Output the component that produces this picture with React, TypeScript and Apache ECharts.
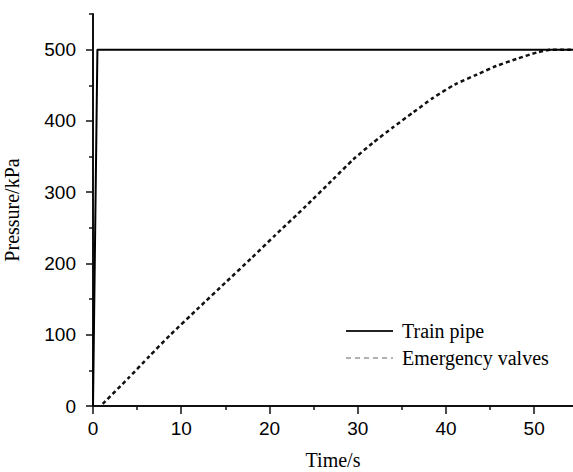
import React, { useEffect, useRef } from "react";
import * as echarts from "echarts";

const trainT = [0, 0.2, 0.5, 54.4];
const trainP = [0, 200, 500, 500];

const emT = [1.1, 4, 6.4, 8.7, 12, 15, 18, 20.6, 24, 27.2, 29.5, 31.7, 34, 36.3, 38.5, 41, 43.5, 45.7, 48, 50.3, 52, 54.4];
const emP = [3, 39, 70, 99, 138, 173, 208, 239, 279, 318, 346, 369, 391, 412, 432, 451, 465, 477, 487, 496, 500, 500];

const xMajor = [0, 10, 20, 30, 40, 50];
const xMinor = [5, 15, 25, 35, 45];
const yMajor = [0, 100, 200, 300, 400, 500];
const yMinor = [50, 150, 250, 350, 450, 550];

const seriesNames = ["Train pipe", "Emergency valves"];

export default function App() {
  const ref = useRef<HTMLDivElement>(null);
  useEffect(() => {
    if (!ref.current) return;
    const chart = echarts.init(ref.current, null, { renderer: "svg" });
    const axisColor = "#111";
    const sans = "'Liberation Sans', Arial, sans-serif";
    const serif = "'Liberation Serif', 'Times New Roman', serif";
    const hiddenSymbol = { color: "rgba(0,0,0,0)", borderWidth: 0, opacity: 0 };
    chart.setOption({
      animation: false,
      backgroundColor: "#fff",
      grid: { left: 93, right: 0, top: 14, bottom: 66, containLabel: false, outerBoundsMode: "none" },
      legend: {
        orient: "vertical",
        left: 345,
        top: 321,
        padding: 0,
        itemWidth: 47,
        itemHeight: 14,
        itemGap: 7,
        textStyle: { fontFamily: serif, fontSize: 20, color: "#000", lineHeight: 20, padding: [0, 0, 0, 4] },
        data: [
          { name: seriesNames[0], itemStyle: hiddenSymbol, lineStyle: { color: "#222", width: 2, type: "solid" } },
          { name: seriesNames[1], itemStyle: hiddenSymbol, lineStyle: { color: "#999", width: 1.5, type: [5, 4] } },
        ],
      },
      xAxis: [
        {
          type: "value",
          min: 0,
          max: 54.4,
          position: "bottom",
          name: "Time/s",
          nameLocation: "middle",
          nameGap: 44,
          nameTextStyle: { fontFamily: serif, fontSize: 20, color: "#000" },
          axisLine: { show: true, lineStyle: { color: axisColor, width: 2 } },
          axisTick: { show: true, customValues: xMajor, length: 8, lineStyle: { color: axisColor, width: 1.5 } },
          axisLabel: { show: true, customValues: xMajor, margin: 13, fontFamily: sans, fontSize: 19, color: "#000" },
          splitLine: { show: false },
        },
        {
          type: "value",
          min: 0,
          max: 54.4,
          position: "bottom",
          axisLine: { show: false },
          axisTick: { show: true, customValues: xMinor, length: 4, lineStyle: { color: axisColor, width: 1.5 } },
          axisLabel: { show: false },
          splitLine: { show: false },
        },
      ],
      yAxis: [
        {
          type: "value",
          min: 0,
          max: 550,
          position: "left",
          name: "Pressure/kPa",
          nameLocation: "middle",
          nameGap: 71,
          nameTextStyle: { fontFamily: serif, fontSize: 20, color: "#000" },
          axisLine: { show: true, lineStyle: { color: axisColor, width: 2 } },
          axisTick: { show: true, customValues: yMajor, length: 7, lineStyle: { color: axisColor, width: 1.5 } },
          axisLabel: { show: true, customValues: yMajor, margin: 17, fontFamily: sans, fontSize: 19, color: "#000" },
          splitLine: { show: false },
        },
        {
          type: "value",
          min: 0,
          max: 550,
          position: "left",
          axisLine: { show: false },
          axisTick: { show: true, customValues: yMinor, length: 4, lineStyle: { color: axisColor, width: 1.5 } },
          axisLabel: { show: false },
          splitLine: { show: false },
        },
      ],
      series: [
        {
          name: seriesNames[0],
          type: "line",
          xAxisIndex: 0,
          yAxisIndex: 0,
          symbol: "none",
          lineStyle: { color: "#000", width: 2 },
          itemStyle: { color: "#000" },
          data: trainT.map((t, i) => [t, trainP[i]]),
          z: 3,
        },
        {
          name: seriesNames[1],
          type: "line",
          xAxisIndex: 0,
          yAxisIndex: 0,
          symbol: "none",
          smooth: 0.2,
          lineStyle: { color: "#111", width: 2.5, type: [4, 3] },
          itemStyle: { color: "#111" },
          data: emT.map((t, i) => [t, emP[i]]),
          z: 2,
        },
      ],
    });
    return () => chart.dispose();
  }, []);
  return (
    <div
      ref={ref}
      style={{ position: "fixed", left: 0, top: 0, width: 573, height: 472, background: "#fff" }}
    />
  );
}
